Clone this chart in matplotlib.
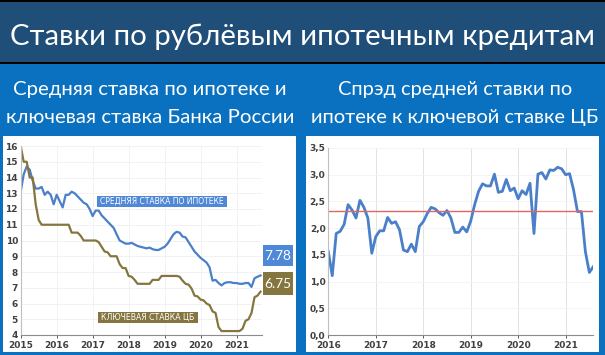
import numpy as np
import matplotlib
matplotlib.use("Agg")
from matplotlib import pyplot as plt
from matplotlib.patches import Rectangle
from matplotlib.ticker import FuncFormatter

# Data, monthly
years_left = ["2015", "2016", "2017", "2018", "2019", "2020", "2021"]
mortgage_rate = [
    13.1, 14.2, 14.7, 14.5, 13.8, 13.3, 13.3, 13.4, 12.9, 13.1, 12.9, 12.3,
    12.9, 12.5, 12.1, 12.9, 12.9, 13.1, 13.0, 12.8, 12.6, 12.4, 12.3, 12.0,
    11.55, 11.9, 11.9, 11.6, 11.4, 11.2, 11.0, 10.8, 10.4, 10.0, 9.9, 9.8,
    9.8, 9.85, 9.75, 9.65, 9.6, 9.55, 9.5, 9.55, 9.45, 9.4, 9.4, 9.5,
    9.6, 9.8, 10.1, 10.4, 10.55, 10.5, 10.25, 10.2, 9.9, 9.6, 9.3, 9.1,
    8.9, 8.75, 8.6, 8.3, 7.45, 7.5, 7.3, 7.15, 7.3, 7.35, 7.35, 7.3,
    7.3, 7.25, 7.25, 7.3, 7.3, 7.05, 7.6, 7.7, 7.78,
]
key_rate = [
    16.0, 15.0, 15.0, 14.0, 14.0, 12.3, 11.3, 11.0, 11.0, 11.0, 11.0, 11.0,
    11.0, 11.0, 11.0, 11.0, 11.0, 10.5, 10.5, 10.5, 10.3, 10.0, 10.0, 10.0,
    10.0, 10.0, 9.9, 9.6, 9.3, 9.25, 9.0, 9.0, 9.0, 8.5, 8.25, 8.25,
    7.75, 7.7, 7.5, 7.25, 7.25, 7.25, 7.25, 7.25, 7.5, 7.5, 7.5, 7.75,
    7.75, 7.75, 7.75, 7.75, 7.75, 7.7, 7.45, 7.25, 7.2, 6.95, 6.5, 6.45,
    6.25, 6.2, 6.0, 5.9, 5.5, 5.4, 4.5, 4.25, 4.25, 4.25, 4.25, 4.25,
    4.25, 4.25, 4.4, 4.9, 5.0, 5.4, 6.4, 6.5, 6.75,
]

years_right = ["2016", "2017", "2018", "2019", "2020", "2021"]
spread = [
    1.56, 1.11, 1.9, 1.94, 2.07, 2.44, 2.34, 2.19, 2.52, 2.39, 2.19, 1.53,
    1.84, 1.95, 1.95, 2.2, 2.09, 2.12, 1.97, 1.59, 1.56, 1.7, 1.56, 2.03,
    2.12, 2.27, 2.39, 2.36, 2.29, 2.24, 2.33, 2.19, 1.92, 1.92, 2.02, 1.93,
    2.13, 2.44, 2.69, 2.83, 2.79, 2.79, 3.01, 2.67, 2.69, 2.91, 2.7, 2.75,
    2.55, 2.7, 2.63, 2.84, 1.9, 3.01, 3.04, 2.92, 3.09, 3.08, 3.14, 3.11,
    3.0, 3.02, 2.72, 2.31, 2.31, 1.56, 1.17, 1.28,
]
spread_mean = 2.32

title = "Ставки по рублёвым ипотечным кредитам"
subtitle_left = ["Средняя ставка по ипотеке и", "ключевая ставка Банка России"]
subtitle_right = ["Спрэд средней ставки по", "ипотеке к ключевой ставке ЦБ"]
label_mortgage = "СРЕДНЯЯ СТАВКА ПО ИПОТЕКЕ"
label_key = "КЛЮЧЕВАЯ СТАВКА ЦБ"

# Colors
DARK_BLUE = "#1F4E79"
BLUE_BG = "#0A70C0"
LINE_BLUE = "#4A7FC9"
BOX_BLUE = "#4E88D6"
OLIVE = "#857640"
RED = "#E06666"
GREY_TXT = "#404040"

W, H = 605, 355
fig = plt.figure(figsize=(W / 100, H / 100), dpi=100)
renderer = fig.canvas.get_renderer()
to_fit = []


def px(x, y):
    """pixel coords (top-left origin) -> figure fraction"""
    return x / W, 1 - y / H


def rect(x0, y0, x1, y1, color, z=-2):
    fx, fy = px(x0, y1)
    r = Rectangle((fx, fy), (x1 - x0) / W, (y1 - y0) / H, transform=fig.transFigure,
                  facecolor=color, edgecolor="none", zorder=z)
    fig.patches.append(r)
    return r


def ftext(x, y, s, width, **kw):
    """figure text that gets scaled to a given width in pixels"""
    t = fig.text(*px(x, y), s, color="white", **kw)
    to_fit.append((t, width))
    return t


# Background
rect(0, 0, W, H, BLUE_BG, z=-3)
rect(0, 0, W, 63, DARK_BLUE)
rect(0, 0, W, 1.5, "black")
rect(0, 62, W, 64, "black")
rect(3, 136, 296, 352, "white")
rect(306, 136, 599, 352, "white")

# Titles
font = ["Lato", "Open Sans", "DejaVu Sans"]
ftext(302, 45, title, 586, fontsize=20, family=font, ha="center", va="baseline")
ftext(150, 95, subtitle_left[0], 274, fontsize=14, family=font, ha="center", va="baseline")
ftext(150, 123, subtitle_left[1], 290, fontsize=14, family=font, ha="center", va="baseline")
ftext(455, 95, subtitle_right[0], 235, fontsize=14, family=font, ha="center", va="baseline")
ftext(455, 123, subtitle_right[1], 290, fontsize=14, family=font, ha="center", va="baseline")


def style_axes(ax):
    ax.set_facecolor("none")
    for s in ("top", "right"):
        ax.spines[s].set_visible(False)
    ax.spines["left"].set_color("#BFBFBF")
    ax.spines["bottom"].set_color("#8C8C8C")
    ax.spines["left"].set_linewidth(0.8)
    ax.spines["bottom"].set_linewidth(0.8)
    ax.tick_params(axis="both", labelsize=6.5, colors=GREY_TXT, length=2, width=0.6, pad=2)
    ax.tick_params(axis="y", length=0)
    for lab in ax.get_xticklabels() + ax.get_yticklabels():
        lab.set_fontweight("bold")


# Left chart
fx0, fy0 = px(20.7, 335)
fx1, fy1 = px(262, 146)
ax1 = fig.add_axes([fx0, fy0, fx1 - fx0, fy1 - fy0])
ax1.plot(np.arange(len(mortgage_rate)), mortgage_rate, color=LINE_BLUE, lw=1.6,
         solid_joinstyle="round")
ax1.plot(np.arange(len(key_rate)), key_rate, color=OLIVE, lw=1.6, solid_joinstyle="round")
ax1.set_xlim(0, 80.5)
ax1.set_ylim(4, 16)
ax1.set_yticks(range(4, 17))
ax1.set_xticks(np.arange(len(years_left)) * 12)
ax1.set_xticklabels(years_left)
ax1.grid(True, color="#F0F0F0", lw=0.6)
ax1.set_axisbelow(True)
style_axes(ax1)

# Right chart
fx0, fy0 = px(328.3, 335)
fx1, fy1 = px(593.3, 148)
ax2 = fig.add_axes([fx0, fy0, fx1 - fx0, fy1 - fy0])
ax2.plot(np.arange(len(spread)), spread, color=LINE_BLUE, lw=2.0, solid_joinstyle="round")
ax2.axhline(spread_mean, color=RED, lw=1.0)
ax2.set_xlim(0, 67)
ax2.set_ylim(0, 3.5)
ax2.set_yticks(np.arange(0, 3.51, 0.5))
ax2.yaxis.set_major_formatter(FuncFormatter(lambda v, _: f"{v:.1f}".replace(".", ",")))
ax2.set_xticks(np.arange(len(years_right)) * 12)
ax2.set_xticklabels(years_right)
ax2.grid(True, axis="x", color="#E3E3E3", lw=0.7)
ax2.grid(True, axis="y", color="#F3F3F3", lw=0.6)
ax2.set_axisbelow(True)
style_axes(ax2)

# Series labels
narrow = ["Liberation Sans Narrow", "DejaVu Sans"]
rect(97, 196, 227, 207, BOX_BLUE, z=5)
ftext(162, 201.5, label_mortgage, 124, fontsize=6.8, family=narrow,
      ha="center", va="center", zorder=6)
rect(98, 312, 198, 323, OLIVE, z=5)
ftext(148, 317.5, label_key, 93, fontsize=6.8, family=narrow,
      ha="center", va="center", zorder=6)

# Last value boxes
rect(263, 245, 293, 266, BOX_BLUE, z=5)
ftext(278, 256, f"{mortgage_rate[-1]:.2f}", 27, fontsize=11.5, family=font,
      ha="center", va="center", zorder=6)
rect(263, 272, 293, 295, OLIVE, z=5)
ftext(278, 283.5, f"{key_rate[-1]:.2f}", 27, fontsize=11.5, family=font,
      ha="center", va="center", zorder=6)

# Scale texts to their widths in the reference
for t, width in to_fit:
    w = t.get_window_extent(renderer).width
    t.set_fontsize(t.get_fontsize() * width / w)

fig.savefig("out.png", dpi=100)
